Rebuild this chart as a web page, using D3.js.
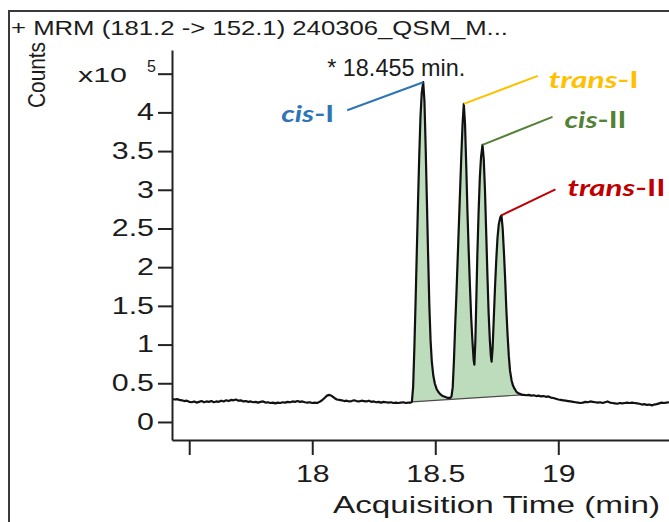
<!DOCTYPE html>
<html>
<head>
<meta charset="utf-8">
<script src="https://cdn.jsdelivr.net/npm/d3@7"></script>
<style>
  body { margin: 0; background: #fff; }
  svg { display: block; }
  text { font-family: Arial, "Liberation Sans", sans-serif; fill: #1c1c1c; }
  .lbl { font-family: Lato, "Open Sans", sans-serif; font-weight: 700; }
</style>
</head>
<body>
<svg id="chart" width="669" height="522"></svg>
<script>
// --- data: counts in units of 10^5, time in minutes ---
const leftBaseline = [
  [17.43, 0.30], [17.44, 0.29], [17.45, 0.295], [17.46, 0.285], [17.47, 0.28], [17.48, 0.27],
  [17.49, 0.275], [17.50, 0.26], [17.51, 0.255], [17.52, 0.265], [17.53, 0.25], [17.54, 0.26],
  [17.55, 0.27], [17.56, 0.255], [17.57, 0.265], [17.58, 0.26], [17.59, 0.27], [17.60, 0.255],
  [17.61, 0.265], [17.62, 0.26], [17.63, 0.275], [17.64, 0.265], [17.65, 0.28], [17.66, 0.27],
  [17.67, 0.285], [17.68, 0.28], [17.69, 0.29], [17.70, 0.275], [17.71, 0.28], [17.72, 0.265],
  [17.73, 0.27], [17.74, 0.26], [17.75, 0.265], [17.76, 0.255], [17.77, 0.26], [17.78, 0.25],
  [17.79, 0.26], [17.80, 0.265], [17.81, 0.25], [17.82, 0.255], [17.83, 0.245], [17.84, 0.25],
  [17.85, 0.24], [17.86, 0.25], [17.87, 0.245], [17.88, 0.255], [17.89, 0.25], [17.90, 0.26],
  [17.91, 0.255], [17.92, 0.265], [17.93, 0.26], [17.94, 0.27], [17.95, 0.26], [17.96, 0.265],
  [17.97, 0.255], [17.98, 0.25], [17.99, 0.255], [18.00, 0.245], [18.01, 0.25], [18.02, 0.245],
  [18.03, 0.26], [18.04, 0.28], [18.05, 0.31], [18.06, 0.34], [18.07, 0.35], [18.08, 0.335],
  [18.09, 0.31], [18.10, 0.29], [18.11, 0.285], [18.12, 0.28], [18.13, 0.27], [18.14, 0.275],
  [18.15, 0.265], [18.16, 0.27], [18.17, 0.28], [18.18, 0.27], [18.19, 0.265], [18.20, 0.275],
  [18.21, 0.27], [18.22, 0.265], [18.23, 0.275], [18.24, 0.26], [18.25, 0.265], [18.26, 0.255],
  [18.27, 0.26], [18.28, 0.25], [18.29, 0.26], [18.30, 0.255], [18.31, 0.25], [18.32, 0.255],
  [18.33, 0.245], [18.34, 0.25], [18.35, 0.245], [18.36, 0.25], [18.37, 0.255], [18.38, 0.245],
  [18.39, 0.25], [18.40, 0.25]
];

// integrated region (filled)
const peakCluster = [
  [18.405, 0.26], [18.410, 0.45], [18.415, 0.95], [18.420, 1.55], [18.425, 2.20], [18.430, 2.85],
  [18.435, 3.45], [18.440, 3.95], [18.445, 4.25], [18.451, 4.39], [18.456, 4.15], [18.461, 3.55],
  [18.466, 2.85], [18.471, 2.15], [18.476, 1.50], [18.481, 1.05], [18.486, 0.78], [18.492, 0.60],
  [18.498, 0.50], [18.505, 0.43], [18.512, 0.39], [18.520, 0.36], [18.528, 0.34], [18.536, 0.33],
  [18.544, 0.32], [18.552, 0.31], [18.560, 0.31], [18.566, 0.33], [18.571, 0.45], [18.576, 0.80],
  [18.581, 1.25], [18.586, 1.65], [18.591, 2.10], [18.596, 2.55], [18.601, 3.00], [18.606, 3.45],
  [18.611, 3.85], [18.616, 4.11], [18.621, 3.85], [18.626, 3.30], [18.631, 2.70], [18.636, 2.20],
  [18.641, 1.75], [18.646, 1.35], [18.651, 1.05], [18.656, 0.80], [18.659, 0.74], [18.663, 1.05],
  [18.667, 1.60], [18.671, 2.15], [18.676, 2.70], [18.681, 3.15], [18.686, 3.42], [18.692, 3.58],
  [18.697, 3.40], [18.702, 3.00], [18.707, 2.45], [18.712, 1.90], [18.717, 1.40], [18.722, 1.05],
  [18.726, 0.85], [18.729, 0.78], [18.733, 0.95], [18.738, 1.35], [18.743, 1.75], [18.748, 2.10],
  [18.753, 2.38], [18.758, 2.55], [18.764, 2.64], [18.769, 2.67], [18.774, 2.50], [18.779, 2.20],
  [18.784, 1.85], [18.789, 1.45], [18.794, 1.12], [18.799, 0.85], [18.804, 0.66], [18.810, 0.54],
  [18.816, 0.47], [18.822, 0.43], [18.830, 0.39], [18.838, 0.37], [18.846, 0.36], [18.853, 0.35]
];

const rightBaseline = [
  [18.86, 0.35], [18.87, 0.345], [18.88, 0.35], [18.89, 0.34], [18.90, 0.345], [18.91, 0.335],
  [18.92, 0.34], [18.93, 0.33], [18.94, 0.335], [18.95, 0.325], [18.96, 0.33], [18.97, 0.315],
  [18.98, 0.31], [18.99, 0.30], [19.00, 0.29], [19.01, 0.285], [19.02, 0.28], [19.03, 0.275],
  [19.04, 0.27], [19.05, 0.265], [19.06, 0.26], [19.07, 0.255], [19.08, 0.25], [19.09, 0.245],
  [19.10, 0.25], [19.11, 0.26], [19.12, 0.255], [19.13, 0.265], [19.14, 0.26], [19.15, 0.255],
  [19.16, 0.25], [19.17, 0.255], [19.18, 0.245], [19.19, 0.255], [19.20, 0.265], [19.21, 0.25],
  [19.22, 0.245], [19.23, 0.24], [19.24, 0.235], [19.25, 0.245], [19.26, 0.24], [19.27, 0.245],
  [19.28, 0.25], [19.29, 0.245], [19.30, 0.25], [19.31, 0.245], [19.32, 0.24], [19.33, 0.235],
  [19.34, 0.225], [19.35, 0.23], [19.36, 0.22], [19.37, 0.225], [19.38, 0.215], [19.39, 0.225],
  [19.40, 0.23], [19.41, 0.24], [19.42, 0.25], [19.43, 0.245], [19.44, 0.25], [19.45, 0.255]
];

const yTicks = [0, 0.5, 1, 1.5, 2, 2.5, 3, 3.5, 4, 4.5];
const xTicks = [17.5, 18, 18.5, 19];
const xTickLabels = ['', '18', '18.5', '19'];

const peakNames = ['cis', 'trans', 'cis', 'trans'];
const peakRoman = ['-I', '-I', '-II', '-II'];
const peakTimes = [18.451, 18.616, 18.692, 18.769];
const peakApex = [4.39, 4.11, 3.58, 2.67];
const peakColors = ['#2e75b6', '#ffc000', '#548235', '#c00000'];

const titleText = '+ MRM (181.2 -> 152.1) 240306_QSM_M...';
const rtText = '* 18.455 min.';

// --- layout ---
const svg = d3.select('#chart');
const plot = { left: 172, right: 669, top: 50, bottom: 440 };

const x = d3.scaleLinear().domain([17.43, 19.45]).range([plot.left, plot.right]);
const y = d3.scaleLinear().domain([-0.233, 4.806]).range([plot.bottom, plot.top]);

// fit text horizontally to a width (reference is stretched)
function fitWidth(sel, w) {
  sel.attr('textLength', w).attr('lengthAdjust', 'spacingAndGlyphs');
}
function stretch(sel, k) {
  sel.each(function () {
    const w = this.getComputedTextLength();
    d3.select(this).attr('textLength', w * k).attr('lengthAdjust', 'spacingAndGlyphs');
  });
}

// outer frame
svg.append('path')
  .attr('d', 'M9,522V11H669')
  .attr('fill', 'none')
  .attr('stroke', '#3a3a3a')
  .attr('stroke-width', 2);

// title
svg.append('text')
  .attr('x', 11).attr('y', 35)
  .style('font-size', '21px')
  .text(titleText)
  .call(fitWidth, 497);

// clip
svg.append('defs').append('clipPath').attr('id', 'clip')
  .append('rect')
  .attr('x', plot.left).attr('y', plot.top)
  .attr('width', plot.right - plot.left).attr('height', plot.bottom - plot.top);

const line = d3.line().x(d => x(d[0])).y(d => y(d[1]));
const g = svg.append('g').attr('clip-path', 'url(#clip)');

// filled integration area (closed by straight baseline)
g.append('path')
  .attr('d', line(peakCluster) + 'Z')
  .attr('fill', '#bddcbc')
  .attr('stroke', 'none');

const first = peakCluster[0], last = peakCluster[peakCluster.length - 1];
g.append('path')
  .attr('d', line([first, last]))
  .attr('stroke', '#4a4a4a')
  .attr('stroke-width', 1.2)
  .attr('fill', 'none');

// chromatogram trace
g.append('path')
  .attr('d', line(leftBaseline.concat(peakCluster, rightBaseline)))
  .attr('fill', 'none')
  .attr('stroke', '#111')
  .attr('stroke-width', 2.2)
  .attr('stroke-linejoin', 'round');

// y axis
const yAxis = svg.append('g')
  .attr('transform', `translate(${plot.left},0)`)
  .call(d3.axisLeft(y).tickValues(yTicks).tickSize(14).tickSizeOuter(0).tickPadding(4)
    .tickFormat(d => d === 4.5 ? '' : d3.format('')(d)));
yAxis.select('.domain').attr('stroke', '#222').attr('stroke-width', 2);
yAxis.selectAll('.tick line').attr('stroke', '#222').attr('stroke-width', 2);
yAxis.selectAll('.tick text')
  .style('font-size', '23px')
  .style('font-family', 'Arial, "Liberation Sans", sans-serif')
  .attr('fill', '#1c1c1c')
  .call(stretch, 1.32);

// x axis
const xAxis = svg.append('g')
  .attr('transform', `translate(0,${plot.bottom})`)
  .call(d3.axisBottom(x).tickValues(xTicks).tickSize(15).tickSizeOuter(0).tickPadding(10)
    .tickFormat((d, i) => xTickLabels[i]));
xAxis.select('.domain').attr('stroke', '#222').attr('stroke-width', 2);
xAxis.selectAll('.tick line').attr('stroke', '#222').attr('stroke-width', 2);
xAxis.selectAll('.tick text')
  .style('font-size', '24px')
  .style('font-family', 'Arial, "Liberation Sans", sans-serif')
  .attr('fill', '#1c1c1c')
  .call(stretch, 1.26);

// axis titles
svg.append('text')
  .attr('x', 333).attr('y', 513)
  .style('font-size', '24px')
  .text('Acquisition Time (min)')
  .call(fitWidth, 327);

svg.append('text')
  .attr('transform', 'translate(45,75) rotate(-90)')
  .attr('text-anchor', 'middle')
  .style('font-size', '24px')
  .text('Counts')
  .call(fitWidth, 66);

// exponent label in place of top tick
const expo = svg.append('g');
expo.append('text')
  .attr('x', 78).attr('y', 82)
  .style('font-size', '21px')
  .text('x10')
  .call(fitWidth, 49);
expo.append('text')
  .attr('x', 147).attr('y', 72)
  .style('font-size', '16px')
  .text('5');

// retention time annotation
svg.append('text')
  .attr('x', x(peakTimes[0]) - 96).attr('y', 76)
  .style('font-size', '24px')
  .text(rtText)
  .call(fitWidth, 138);

// peak labels with leader lines
const leader = [
  { dx: -76, dy: 28, side: 'left', tdx: -13, tdy: 12, w: 53 },
  { dx: 74, dy: -28, side: 'right', tdx: 11, tdy: 12, w: 90 },
  { dx: 70, dy: -28, side: 'right', tdx: 12, tdy: 11, w: 62 },
  { dx: 54, dy: -26, side: 'right', tdx: 12, tdy: 7, w: 98 }
];

peakTimes.forEach((t, i) => {
  const px = x(t), py = y(peakApex[i]);
  const L = leader[i];
  svg.append('line')
    .attr('x1', px).attr('y1', py)
    .attr('x2', px + L.dx).attr('y2', py + L.dy)
    .attr('stroke', peakColors[i])
    .attr('stroke-width', 2);
  const txt = svg.append('text')
    .attr('class', 'lbl')
    .attr('x', px + L.dx + L.tdx)
    .attr('y', py + L.dy + L.tdy)
    .attr('text-anchor', L.side === 'left' ? 'end' : 'start')
    .style('font-size', '23px')
    .style('fill', peakColors[i]);
  txt.append('tspan').style('font-style', 'italic').style('fill', peakColors[i]).text(peakNames[i]);
  txt.append('tspan').style('fill', peakColors[i]).text(peakRoman[i]);
  txt.call(fitWidth, L.w);
});
</script>
</body>
</html>
